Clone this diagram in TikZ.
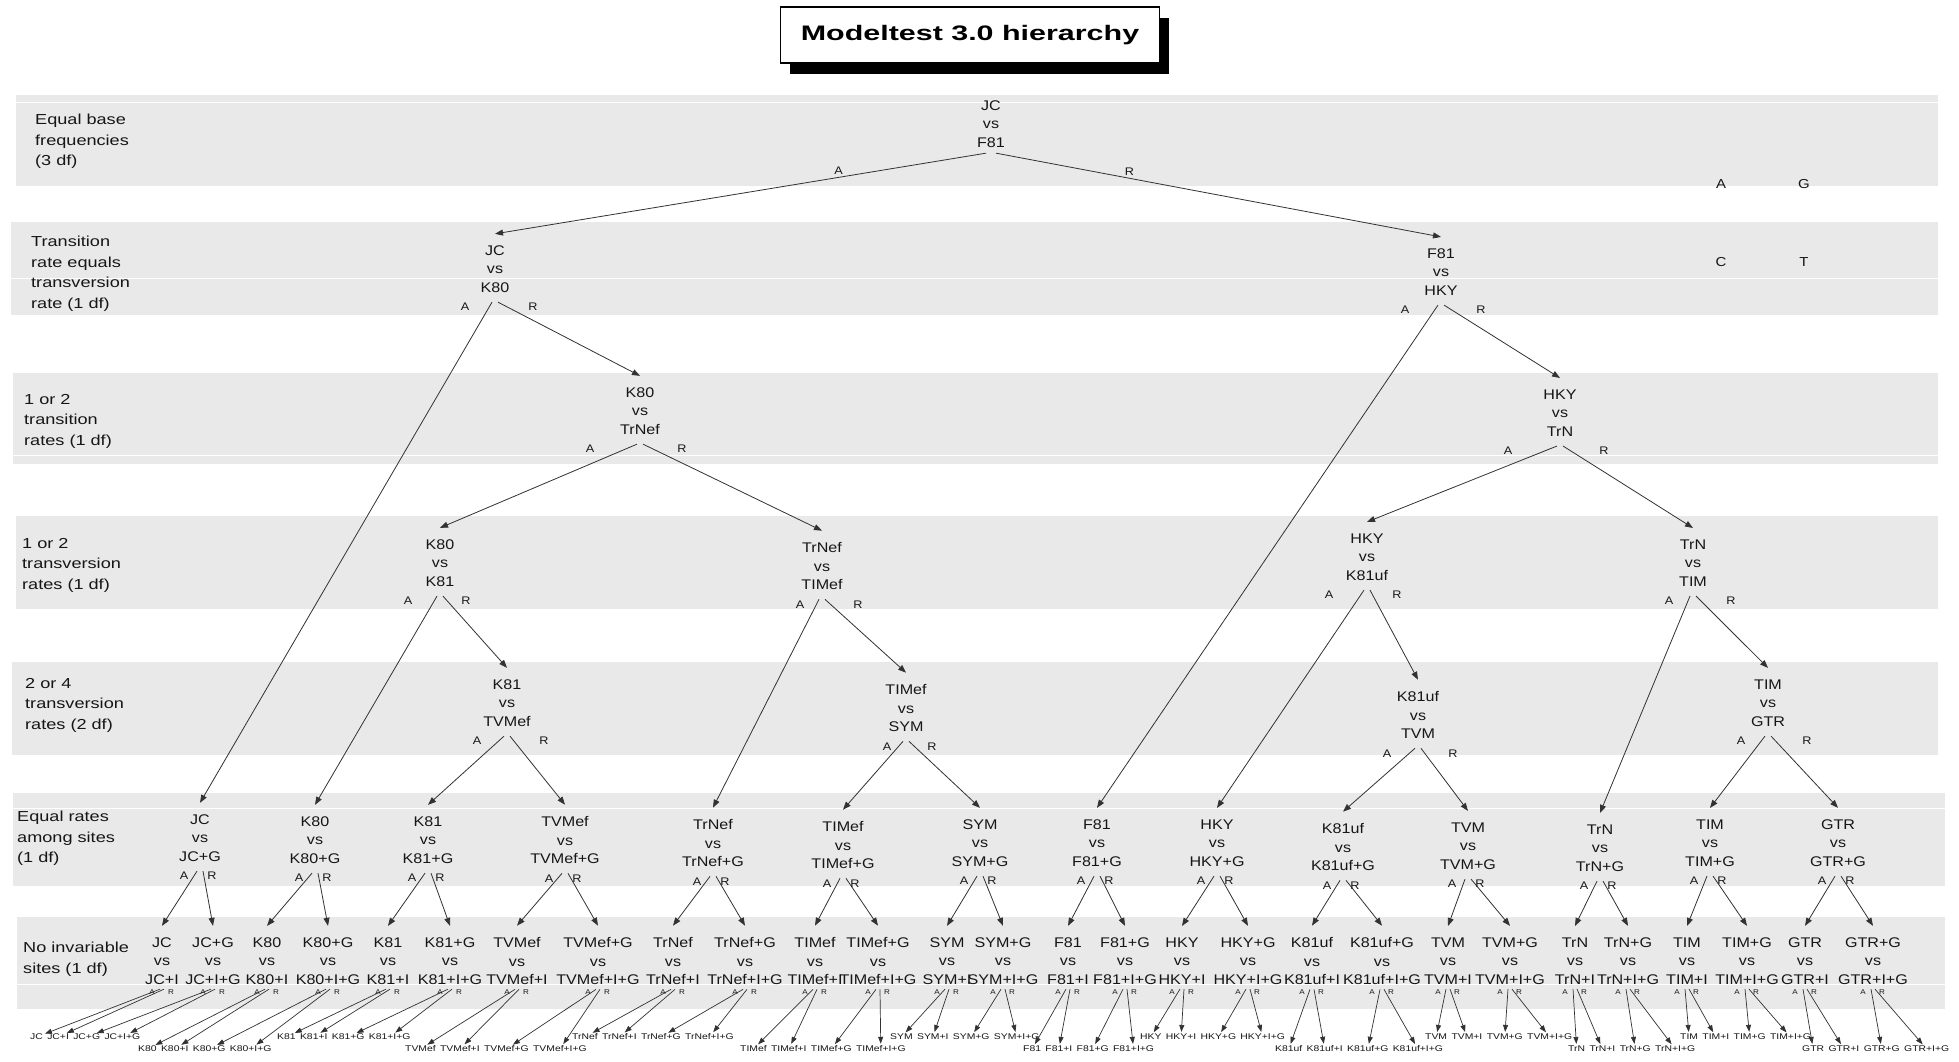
\documentclass[tikz,border=0pt]{standalone}
\usepackage{fontspec}
\setmainfont{Liberation Sans}[FakeStretch=1.15]
\newfontfamily\bandfont{Liberation Sans}[FakeStretch=1.25]
\newfontfamily\titlefont{Liberation Sans}[FakeStretch=1.45]
\usetikzlibrary{arrows.meta,positioning,shadows}
\definecolor{BandGray}{RGB}{233,233,233}
\definecolor{InkGray}{RGB}{22,22,22}
\definecolor{LineGray}{RGB}{50,50,50}
\tikzset{
  band/.style     ={fill=BandGray, draw=none},
  bandlab/.style  ={anchor=north west, align=left, inner sep=0pt, text=InkGray,
                    font=\bandfont\fontsize{14.5}{20.5}\selectfont},
  titlebox/.style ={rectangle, draw=black, line width=1.6pt, fill=white,
                    minimum width=379pt, minimum height=56pt, inner sep=0pt,
                    font=\titlefont\bfseries\fontsize{21}{21}\selectfont,
                    drop shadow={shadow xshift=9pt, shadow yshift=-11pt, fill=black, opacity=1}},
  test/.style     ={align=center, inner sep=1.5pt, text=InkGray,
                    font=\fontsize{14}{18.5}\selectfont},
  ar/.style       ={inner sep=0pt, text=InkGray, font=\fontsize{11}{11}\selectfont},
  tinyar/.style   ={inner sep=0pt, text=InkGray, font=\fontsize{7}{7}\selectfont},
  base/.style     ={inner sep=0pt, text=InkGray, font=\fontsize{13}{13}\selectfont},
  leaf/.style     ={inner sep=0pt, text=InkGray, font=\bandfont\fontsize{8.3}{8.3}\selectfont},
  arr/.style      ={-{Triangle[length=8pt,width=6pt]}, draw=LineGray, line width=.8pt},
  leafarr/.style  ={-{Triangle[length=7pt,width=5pt]}, draw=LineGray, line width=.7pt,
                    shorten >=2pt},
}
% A/R split below a test node
\newcommand{\branch}[5]{%
  \draw[arr] ([xshift=-3pt,yshift=-8pt]#1.south) -- ([yshift=10pt]#2.north);
  \draw[arr] ([xshift=3pt,yshift=-8pt]#1.south) -- ([yshift=10pt]#3.north);
  \node[ar] (#1-a) at ([xshift=#4pt,yshift=-13pt]#1.south) {A};
  \node[ar] (#1-r) at ([xshift=#5pt,yshift=-13pt]#1.south) {R};}
\newcommand{\leafbranch}[3]{%
  \draw[leafarr] ([xshift=-2pt,yshift=-3pt]#1.south) -- (#2);
  \draw[leafarr] ([xshift=2pt,yshift=-3pt]#1.south) -- (#3);
  \node[tinyar] (#1-a) at ([xshift=-10pt,yshift=-6pt]#1.south) {A};
  \node[tinyar] (#1-r) at ([xshift=9pt,yshift=-6pt]#1.south) {R};}
% gamma test, the two invariant-sites tests and the four end models of one model
\newcommand{\gammablock}[8]{%
  \node[test] (g-#1) at (#3,#4) {#2\\vs\\#2+G};
  \node[test] (i-#1) at (#5,961) {#2\\vs\\#2+I};
  \node[test] (ig-#1) at (#6,961) {#2+G\\vs\\#2+I+G};
  \node[leaf,anchor=west] (l-#1-a) at (#7,#8) {#2};
  \node[leaf,right=4pt of l-#1-a] (l-#1-b) {#2+I};
  \node[leaf,right=4pt of l-#1-b] (l-#1-c) {#2+G};
  \node[leaf,right=4pt of l-#1-c] (l-#1-d) {#2+I+G};
  \branch{g-#1}{i-#1}{ig-#1}{-16}{12}
  \leafbranch{i-#1}{l-#1-a}{l-#1-b}
  \leafbranch{ig-#1}{l-#1-c}{l-#1-d}}

\begin{document}
\begin{tikzpicture}[x=1pt,y=-1pt]
  \useasboundingbox (0,0) rectangle (1959,1061);
  \fill[white] (0,0) rectangle (1959,1061);

  \fill[band] (16,95)  rectangle (1938,186);
  \fill[band] (11,222) rectangle (1938,315);
  \fill[band] (13,373) rectangle (1938,464);
  \fill[band] (16,516) rectangle (1938,609);
  \fill[band] (12,662) rectangle (1938,755);
  \fill[band] (13,793) rectangle (1945,886);
  \fill[band] (17,917) rectangle (1945,1009);
  \foreach \y in {102,278,455,808,984}
    \draw[white, line width=.8pt] (10,\y) -- (1946,\y);

  \node[titlebox] (title) at (970,35) {Modeltest 3.0 hierarchy};

  \node[bandlab] (lab1) at (35,114) {Equal base\\frequencies\\(3 df)};
  \node[bandlab] (lab2) at (31,236) {Transition\\rate equals\\transversion\\rate (1 df)};
  \node[bandlab] (lab3) at (24,394) {1 or 2\\transition\\rates (1 df)};
  \node[bandlab] (lab4) at (22,538) {1 or 2\\transversion\\rates (1 df)};
  \node[bandlab] (lab5) at (25,678) {2 or 4\\transversion\\rates (2 df)};
  \node[bandlab] (lab6) at (17,811) {Equal rates\\among sites\\(1 df)};
  \node[bandlab] (lab7) at (23,942) {No invariable\\sites (1 df)};

  \node[base] (base-a) at (1721,184) {A};
  \node[base] (base-g) at (1804,184) {G};
  \node[base] (base-c) at (1721,262) {C};
  \node[base] (base-t) at (1804,262) {T};

  \node[test] (jc-f81)      at (991,124)  {JC\\vs\\F81};
  \node[test] (jc-k80)      at (495,269)  {JC\\vs\\K80};
  \node[test] (f81-hky)     at (1441,272) {F81\\vs\\HKY};
  \node[test] (k80-trnef)   at (640,411)  {K80\\vs\\TrNef};
  \node[test] (hky-trn)     at (1560,413) {HKY\\vs\\TrN};
  \node[test] (k80-k81)     at (440,563)  {K80\\vs\\K81};
  \node[test] (trnef-timef) at (822,566)  {TrNef\\vs\\TIMef};
  \node[test] (hky-k81uf)   at (1367,557) {HKY\\vs\\K81uf};
  \node[test] (trn-tim)     at (1693,563) {TrN\\vs\\TIM};
  \node[test] (k81-tvmef)   at (507,703)  {K81\\vs\\TVMef};
  \node[test] (timef-sym)   at (906,708)  {TIMef\\vs\\SYM};
  \node[test] (k81uf-tvm)   at (1418,715) {K81uf\\vs\\TVM};
  \node[test] (tim-gtr)     at (1768,703) {TIM\\vs\\GTR};

  \gammablock{jc}{JC}{200}{838}{162}{213}{30}{1037}
  \gammablock{k80}{K80}{315}{840}{267}{328}{138}{1049}
  \gammablock{k81}{K81}{428}{840}{388}{450}{277}{1037}
  \gammablock{tvmef}{TVMef}{565}{840}{517}{598}{405}{1049}
  \gammablock{trnef}{TrNef}{713}{843}{673}{745}{572}{1037}
  \gammablock{timef}{TIMef}{843}{845}{815}{878}{740}{1049}
  \gammablock{sym}{SYM}{980}{843}{947}{1003}{890}{1037}
  \gammablock{f81}{F81}{1097}{843}{1068}{1125}{1023}{1049}
  \gammablock{hky}{HKY}{1217}{843}{1182}{1248}{1140}{1037}
  \gammablock{k81uf}{K81uf}{1343}{847}{1312}{1382}{1275}{1049}
  \gammablock{tvm}{TVM}{1468}{846}{1448}{1510}{1425}{1037}
  \gammablock{trn}{TrN}{1600}{848}{1575}{1628}{1568}{1049}
  \gammablock{tim}{TIM}{1710}{843}{1687}{1747}{1680}{1037}
  \gammablock{gtr}{GTR}{1838}{843}{1805}{1873}{1802}{1049}

  \draw[arr] ([xshift=-5pt,yshift=-4pt]jc-f81.south) -- node[ar,pos=.3,above=2pt] (jc-f81-a) {A} ([yshift=10pt]jc-k80.north);
  \draw[arr] ([xshift=5pt,yshift=-4pt]jc-f81.south) -- node[ar,pos=.3,above=2pt] (jc-f81-r) {R} ([yshift=10pt]f81-hky.north);
  \branch{jc-k80}{g-jc}{k80-trnef}{-30}{38}
  \branch{f81-hky}{g-f81}{hky-trn}{-36}{40}
  \branch{k80-trnef}{k80-k81}{trnef-timef}{-50}{42}
  \branch{hky-trn}{hky-k81uf}{trn-tim}{-52}{44}
  \branch{k80-k81}{g-k80}{k81-tvmef}{-32}{26}
  \branch{trnef-timef}{g-trnef}{timef-sym}{-22}{36}
  \branch{hky-k81uf}{g-hky}{k81uf-tvm}{-38}{30}
  \branch{trn-tim}{g-trn}{tim-gtr}{-24}{38}
  \branch{k81-tvmef}{g-k81}{g-tvmef}{-30}{37}
  \branch{timef-sym}{g-timef}{g-sym}{-19}{26}
  \branch{k81uf-tvm}{g-k81uf}{g-tvm}{-31}{35}
  \branch{tim-gtr}{g-tim}{g-gtr}{-27}{39}
\end{tikzpicture}
\end{document}
